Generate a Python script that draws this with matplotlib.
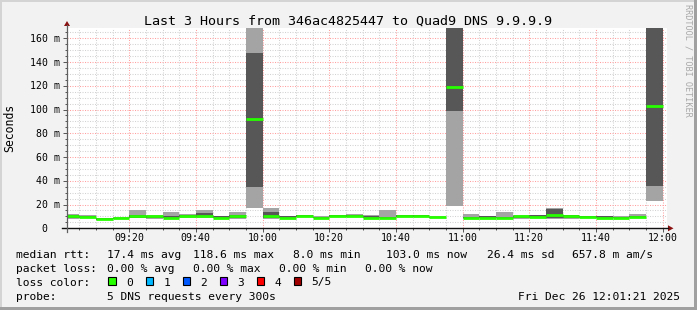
import numpy as np
import matplotlib.pyplot as plt
import matplotlib.transforms as mtransforms
from matplotlib.patches import Rectangle, Polygon
from matplotlib.lines import Line2D

plt.rcParams["font.family"] = ["DejaVu Sans Mono"]

# ========================================
# data: one smoke step every 5 min, x = minutes after 09:00
# ========================================
step_start = np.arange(0, 180, 5)
# sorted ping times (ms) of the 5 DNS requests per step
ping1 = np.array([8.0, 8.8, 7.0, 7.8, 8.5, 8.0, 8.5, 9.0, 9.0, 8.5, 8.0, 17.0,
                  7.6, 8.3, 9.3, 8.3, 9.3, 9.3, 8.3, 8.5, 9.3, 9.3, 8.3, 18.5,
                  8.0, 8.3, 8.3, 8.0, 8.3, 8.2, 8.0, 8.4, 8.3, 8.3, 8.6, 23.0])
ping2 = np.array([9.0, 9.0, 7.3, 8.0, 9.0, 8.5, 8.8, 9.5, 9.5, 8.8, 9.0, 35.0,
                  8.8, 8.7, 9.6, 8.6, 9.5, 9.6, 8.7, 8.8, 9.6, 9.6, 8.7, 99.0,
                  8.5, 8.7, 8.6, 8.5, 8.7, 8.8, 8.5, 8.8, 8.7, 8.7, 9.2, 36.0])
median = np.array([10.3, 9.4, 7.8, 8.6, 10.0, 10.0, 9.0, 10.0, 10.5, 9.0, 10.4, 92.0,
                   10.0, 9.0, 10.5, 9.0, 10.3, 10.5, 9.0, 9.0, 10.5, 10.5, 9.3, 118.6,
                   8.8, 9.0, 9.0, 10.0, 9.5, 11.5, 10.5, 9.2, 9.0, 9.0, 9.8, 103.0])
ping4 = np.array([11.0, 10.0, 8.5, 9.0, 11.0, 10.5, 10.6, 11.0, 12.8, 10.0, 11.2, 148.0,
                  14.0, 10.0, 11.0, 9.8, 10.8, 11.0, 10.5, 9.8, 10.8, 10.8, 9.6, 175.0,
                  9.9, 10.0, 9.5, 10.6, 11.0, 16.0, 11.0, 10.2, 10.0, 9.6, 10.5, 175.0])
ping5 = np.array([11.8, 11.5, 9.0, 9.6, 15.5, 11.2, 13.7, 12.0, 15.4, 10.4, 13.7, 175.0,
                  17.2, 10.3, 11.3, 10.2, 11.2, 12.0, 11.0, 15.4, 11.0, 11.0, 10.0, 180.0,
                  12.0, 10.3, 13.7, 11.0, 11.5, 17.0, 11.2, 10.5, 10.3, 10.3, 11.8, 180.0])

time_ticks = [20, 40, 60, 80, 100, 120, 140, 160, 180]
time_labels = ["09:20", "09:40", "10:00", "10:20", "10:40", "11:00", "11:20", "11:40", "12:00"]
y_ticks = [0, 20, 40, 60, 80, 100, 120, 140, 160]
y_labels = ["0", "20 m", "40 m", "60 m", "80 m", "100 m", "120 m", "140 m", "160 m"]

title = "Last 3 Hours from 346ac4825447 to Quad9 DNS 9.9.9.9"
rtt_stats = ["median rtt:", "17.4 ms avg", "118.6 ms max", "8.0 ms min",
             "103.0 ms now", "26.4 ms sd", "657.8 m am/s"]
loss_stats = ["packet loss:", "0.00 % avg", "0.00 % max", "0.00 % min", "0.00 % now"]
loss_labels = ["0", "1", "2", "3", "4", "5/5"]
loss_colors = ["#26ff00", "#00b8ff", "#0059ff", "#7e00ff", "#ff0000", "#a10000"]
probe_text = ["probe:", "5 DNS requests every 300s"]
stamp = "Fri Dec 26 12:01:21 2025"

# ========================================
# layout (pixel based, rrdtool style)
# ========================================
W, H = 697, 310


def fp(x, y):
    return x / W, 1 - y / H


fig = plt.figure(figsize=(W / 100, H / 100), dpi=100, facecolor="#f2f2f2")

# 3d frame
fig.add_artist(Rectangle(fp(0, 2), 1, 2 / H, transform=fig.transFigure, color="#d4d4d4", lw=0))
fig.add_artist(Rectangle(fp(0, H), 2 / W, 1, transform=fig.transFigure, color="#d4d4d4", lw=0))
fig.add_artist(Rectangle(fp(694, H), 3 / W, 1, transform=fig.transFigure, color="#a0a0a0", lw=0))
fig.add_artist(Rectangle(fp(0, H), 1, 3 / H, transform=fig.transFigure, color="#a0a0a0", lw=0))

ax = fig.add_axes([67 / W, 1 - 228.3 / H, 600 / W, 200 / H])
ax.set_facecolor("white")
ax.set_xlim(1.35, 181.35)
ax.set_ylim(0, 168.4)
for s in ax.spines.values():
    s.set_visible(False)

light = "#a4a4a4"
dark = "#575757"
green = "#26ff00"
ax.bar(step_start, ping2 - ping1, width=5, bottom=ping1, align="edge", color=light, lw=0, zorder=2)
ax.bar(step_start, ping4 - ping2, width=5, bottom=ping2, align="edge", color=dark, lw=0, zorder=2)
ax.bar(step_start, ping5 - ping4, width=5, bottom=ping4, align="edge", color=light, lw=0, zorder=2)
ax.hlines(median, step_start, step_start + 5, colors=green, lw=2, zorder=3, capstyle="butt")

ax.set_xticks(time_ticks)
ax.set_xticks(np.arange(5, 181, 5), minor=True)
ax.set_yticks(y_ticks)
ax.set_yticks(np.arange(5, 166, 5), minor=True)
ax.set_axisbelow(True)
ax.grid(which="minor", color="#d2d2d2", linestyle=(0, (1, 1.4)), lw=0.75)
ax.grid(which="major", color="#ffa0a0", linestyle=(0, (1, 1.4)), lw=0.75)
ax.tick_params(which="both", direction="out", color="#555555", width=0.7,
               labelleft=False, labelbottom=False)
ax.tick_params(which="major", length=3)
ax.tick_params(which="minor", length=1.6)

# axis lines + arrows
fig.add_artist(Line2D([62 / W, 668 / W], [1 - 228.3 / H] * 2, transform=fig.transFigure,
                      color="#111111", lw=1.0))
fig.add_artist(Line2D([67 / W] * 2, [1 - 232 / H, 1 - 25 / H], transform=fig.transFigure,
                      color="#606060", lw=0.9))
fig.add_artist(Polygon([fp(64, 26), fp(70, 26), fp(67, 21)], closed=True,
                       transform=fig.transFigure, color="#8b1010", lw=0))
fig.add_artist(Polygon([fp(668, 225.3), fp(668, 231.3), fp(673.5, 228.3)], closed=True,
                       transform=fig.transFigure, color="#8b1010", lw=0))

# tick labels
xlab_tr = mtransforms.blended_transform_factory(ax.transData, fig.transFigure)
for t, lab in zip(time_ticks, time_labels):
    fig.text(t, 1 - 241 / H, lab, transform=xlab_tr, ha="center", va="baseline", fontsize=7.1)
ylab_tr = mtransforms.blended_transform_factory(fig.transFigure, ax.transData) + \
    mtransforms.ScaledTranslation(0, -3.6 / 100, fig.dpi_scale_trans)
for v, lab in zip(y_ticks, y_labels):
    xr = 47 / W if lab == "0" else 60 / W
    fig.text(xr, v, lab, transform=ylab_tr, ha="right", va="baseline", fontsize=7.1)

fig.text(*fp(10, 127.5), "Seconds", rotation=90, ha="center", va="center", fontsize=8.3)
fig.text(*fp(347.8, 24.5), title, ha="center", va="baseline", fontsize=9.6)
fig.text(*fp(688, 4), "RRDTOOL / TOBI OETIKER", rotation=270, ha="center", va="top",
         fontsize=6.1, color="#a8a8a8")

# legend
fs = 8.1
rtt_x = [16, 107.3, 193.3, 292.7, 386, 486.7, 571.7]
for s, x in zip(rtt_stats, rtt_x):
    fig.text(*fp(x, 257.7), s, ha="left", va="baseline", fontsize=fs)
loss_x = [16, 107.3, 193.3, 279.3, 365]
for s, x in zip(loss_stats, loss_x):
    fig.text(*fp(x, 271.7), s, ha="left", va="baseline", fontsize=fs)
fig.text(*fp(16, 285.5), "loss color:", ha="left", va="baseline", fontsize=fs)
box_x = [108.3, 145.7, 182.7, 219.7, 256.7, 293.7]
for lab, c, x in zip(loss_labels, loss_colors, box_x):
    fig.add_artist(Rectangle(fp(x, 285), 7.7 / W, 7.7 / H, transform=fig.transFigure,
                             facecolor=c, edgecolor="black", lw=0.8))
    fig.text(*fp(x + 17.5, 285.5), lab, ha="left", va="baseline", fontsize=fs)
fig.text(*fp(16, 299.5), probe_text[0], ha="left", va="baseline", fontsize=fs)
fig.text(*fp(107.3, 299.5), probe_text[1], ha="left", va="baseline", fontsize=fs)
fig.text(*fp(680, 299.5), stamp, ha="right", va="baseline", fontsize=fs)

fig.savefig("out.png", dpi=100, facecolor=fig.get_facecolor())
